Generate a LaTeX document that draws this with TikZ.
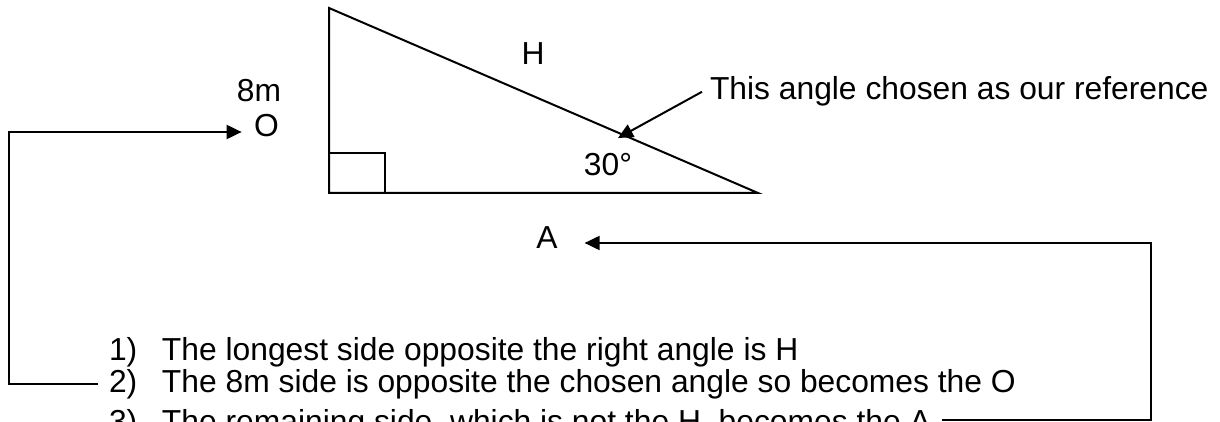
\documentclass[tikz,border=0pt]{standalone}
\usepackage{fontspec}
\setmainfont{Liberation Sans}
\usetikzlibrary{arrows.meta}

\begin{document}
\begin{tikzpicture}[x=0.5pt,y=-0.5pt,line width=1pt,
  lbl/.style={anchor=base,inner sep=0pt,font=\fontsize{15.9}{19}\selectfont},
  listline/.style={anchor=base west,inner sep=0pt,outer sep=5.5pt,font=\fontsize{15.9}{19}\selectfont},
  arr/.style={-{Triangle[length=7.5pt,width=7pt]}}]
  \useasboundingbox (0,0) rectangle (1220,422);
  \clip (0,0) rectangle (1220,422);

  \coordinate (top) at (329,8);
  \coordinate (rt) at (329,193);
  \coordinate (acute) at (758,193);

  \draw (top) -- (rt) -- (acute) -- cycle;
  \draw (rt) rectangle ++(56,-40);

  \node[lbl] (lblH) at (533,65) {H};
  \node[lbl] (lblAng) at (608,176) {30°};
  \node[lbl] (lblA) at (547,249) {A};
  \node[lbl] (lbl8m) at (259,102) {8m};
  \node[lbl] (lblO) at (266.5,137) {O};

  % reference angle callout
  \node[listline,outer sep=4pt] (ref) at (702,100) {This angle chosen as our reference};
  \coordinate (tip) at (618,138);
  \draw[arr] (ref.west) -- (tip);

  % steps
  \node[listline] (l1) at (98,360) {\makebox[26.5pt][l]{1)}The longest side opposite the right angle is H};
  \node[listline] (l2) at (98,392) {\makebox[26.5pt][l]{2)}The 8m side is opposite the chosen angle so becomes the O};
  \node[listline] (l3) at (98,432) {\makebox[26.5pt][l]{3)}The remaining side, which is not the H, becomes the A};

  \coordinate (turnO) at (9,132);
  \coordinate (turnA) at (1151,243);
  \draw[arr] (l2.west) -| (turnO) -- ([xshift=-5.75pt]lblO.west |- turnO);
  \draw[arr] ([yshift=2pt]l3.east) -| (turnA) -- ([xshift=13pt]lblA.east |- turnA);
\end{tikzpicture}
\end{document}
